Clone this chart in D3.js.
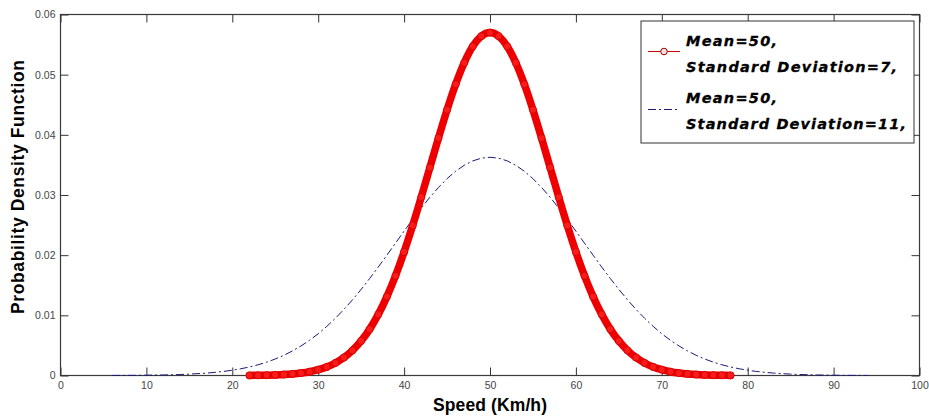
<!DOCTYPE html>
<html><head><meta charset="utf-8">
<script src="https://cdn.jsdelivr.net/npm/d3@7"></script>
<style>body{margin:0;background:#fff}svg{display:block}</style>
</head><body>
<svg id="c" width="929" height="417"></svg>
<script>
// Red series: Mean=50, SD=7 (x = 22..78 step 1)
const redX = d3.range(22, 79, 1);
const redY = [0.00002,0.00003,0.00006,0.00010,0.00016,0.00026,0.00041,0.00063,0.00096,0.00143,
  0.00209,0.00299,0.00418,0.00574,0.00771,0.01016,0.01311,0.01658,0.02054,0.02494,
  0.02966,0.03457,0.03947,0.04416,0.04841,0.05199,0.05471,0.05641,0.05699,0.05641,
  0.05471,0.05199,0.04841,0.04416,0.03947,0.03457,0.02966,0.02494,0.02054,0.01658,
  0.01311,0.01016,0.00771,0.00574,0.00418,0.00299,0.00209,0.00143,0.00096,0.00063,
  0.00041,0.00026,0.00016,0.00010,0.00006,0.00003,0.00002];
// Blue series: Mean=50, SD=11 (x = 6..94 step 1)
const blueX = d3.range(6, 95, 1);
const blueY = [0.00001,0.00002,0.00002,0.00003,0.00005,0.00007,0.00009,0.00013,0.00017,0.00023,
  0.00031,0.00040,0.00053,0.00068,0.00088,0.00112,0.00142,0.00178,0.00222,0.00274,
  0.00336,0.00408,0.00491,0.00586,0.00694,0.00816,0.00951,0.01099,0.01259,0.01431,
  0.01614,0.01804,0.02000,0.02200,0.02399,0.02595,0.02784,0.02962,0.03125,0.03271,
  0.03395,0.03494,0.03567,0.03612,0.03627,0.03612,0.03567,0.03494,0.03395,0.03271,
  0.03125,0.02962,0.02784,0.02595,0.02399,0.02200,0.02000,0.01804,0.01614,0.01431,
  0.01259,0.01099,0.00951,0.00816,0.00694,0.00586,0.00491,0.00408,0.00336,0.00274,
  0.00222,0.00178,0.00142,0.00112,0.00088,0.00068,0.00053,0.00040,0.00031,0.00023,
  0.00017,0.00013,0.00009,0.00007,0.00005,0.00003,0.00002,0.00002,0.00001];
const xTicks = [0,10,20,30,40,50,60,70,80,90,100];
const yTicks = [0,0.01,0.02,0.03,0.04,0.05,0.06];
const legendLines = [["Mean=50,","Standard Deviation=7,"],["Mean=50,","Standard Deviation=11,"]];

const svg = d3.select("#c");
const L = 60.5, R = 919.5, T = 14.5, B = 375.5;
const x = d3.scaleLinear().domain([0,100]).range([L,R]);
const y = d3.scaleLinear().domain([0,0.06]).range([B,T]);
const tickFont = "Liberation Sans, Arial, sans-serif";

// frame
svg.append("rect").attr("x",L).attr("y",T).attr("width",R-L).attr("height",B-T)
  .attr("fill","none").attr("stroke","#3a3a3a").attr("stroke-width",1.2);

// axes with inward ticks
const xb = svg.append("g").attr("transform",`translate(0,${B})`)
  .call(d3.axisBottom(x).tickValues(xTicks).tickSizeInner(-8).tickSizeOuter(0).tickPadding(4).tickFormat(d3.format("d")));
const xt = svg.append("g").attr("transform",`translate(0,${T})`)
  .call(d3.axisTop(x).tickValues(xTicks).tickSizeInner(-8).tickSizeOuter(0).tickFormat(""));
const yl = svg.append("g").attr("transform",`translate(${L},0)`)
  .call(d3.axisLeft(y).tickValues(yTicks).tickSizeInner(-8).tickSizeOuter(0).tickPadding(5).tickFormat(d=> d===0?"0":d3.format(".2f")(d)));
const yr = svg.append("g").attr("transform",`translate(${R},0)`)
  .call(d3.axisRight(y).tickValues(yTicks).tickSizeInner(-8).tickSizeOuter(0).tickFormat(""));
[xb,xt,yl,yr].forEach(g=>{
  g.select(".domain").remove();
  g.selectAll(".tick line").attr("stroke","#333");
  g.selectAll("text").attr("font-family",tickFont).attr("font-size",10.5).attr("fill","#444");
});
xb.selectAll("text").attr("dy","0.9em");

// blue dash-dot line
const blueData = blueX.map((v,i)=>[v,blueY[i]]);
svg.append("path").datum(blueData)
  .attr("d", d3.line().x(d=>x(d[0])).y(d=>y(d[1])))
  .attr("fill","none").attr("stroke","#1a1a7a").attr("stroke-width",1)
  .attr("stroke-dasharray","8,3,2,3");

// red thick line with circle markers
const redData = redX.map((v,i)=>[v,redY[i]]);
svg.append("path").datum(redData)
  .attr("d", d3.line().curve(d3.curveMonotoneX).x(d=>x(d[0])).y(d=>y(d[1])))
  .attr("fill","none").attr("stroke","#ee0000").attr("stroke-width",7.5).attr("stroke-linecap","round");
svg.append("g").selectAll("circle").data(redData).join("circle")
  .attr("cx",d=>x(d[0])).attr("cy",d=>y(d[1])).attr("r",3.6)
  .attr("fill","#ff1a1a").attr("stroke","#c00000").attr("stroke-width",0.7);

// legend
const lg = svg.append("g");
lg.append("rect").attr("x",641).attr("y",21).attr("width",273).attr("height",122)
  .attr("fill","#fff").attr("stroke","#333").attr("stroke-width",1);
const lfont = "Liberation Sans, Arial, sans-serif";
const rows = [[41,67],[97.5,124]];
const widths = [[91,211],[91,220]];
legendLines.forEach((ls,i)=>{
  ls.forEach((t,j)=>{
    lg.append("text").attr("x",686).attr("y",rows[i][j]).attr("dy","0.36em")
      .attr("font-family","DejaVu Sans, sans-serif").attr("font-weight","bold").attr("font-style","italic")
      .attr("font-size",14.5).attr("textLength",widths[i][j]).attr("lengthAdjust","spacing")
      .attr("stroke","#000").attr("stroke-width",0.3)
      .attr("fill","#000").text(t);
  });
});
lg.append("line").attr("x1",648).attr("x2",680).attr("y1",51.5).attr("y2",51.5).attr("stroke","#cc0000").attr("stroke-width",1);
lg.append("circle").attr("cx",664).attr("cy",51.5).attr("r",3.3).attr("fill","#f4dede").attr("stroke","#990000").attr("stroke-width",1);
lg.append("line").attr("x1",648).attr("x2",680).attr("y1",109.5).attr("y2",109.5).attr("stroke","#1a1a7a").attr("stroke-width",1).attr("stroke-dasharray","8,3,2,3");

// axis titles
svg.append("text").attr("x",490).attr("y",411).attr("text-anchor","middle")
  .attr("font-family",lfont).attr("font-weight","bold").attr("font-size",17.5)
  .attr("textLength",114).attr("lengthAdjust","spacing").text("Speed (Km/h)");
svg.append("text").attr("transform","translate(24,187) rotate(-90)").attr("text-anchor","middle")
  .attr("font-family",lfont).attr("font-weight","bold").attr("font-size",17.5)
  .attr("textLength",254).attr("lengthAdjust","spacing").text("Probability Density Function");
</script>
</body></html>
